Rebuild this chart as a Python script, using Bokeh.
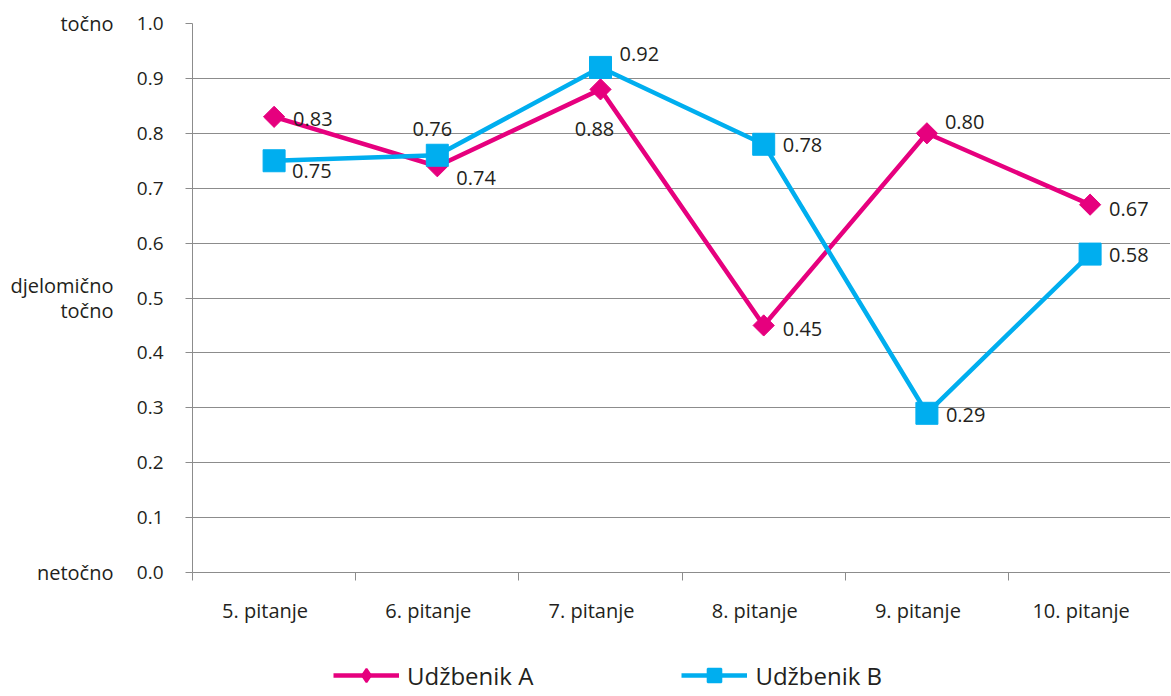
import numpy as np
from bokeh.plotting import figure
from bokeh.layouts import column
from bokeh.models import (Range1d, FixedTicker, LinearAxis, Legend, LegendItem,
                          ColumnDataSource)
from bokeh.core.properties import value
from bokeh.embed import file_html
from bokeh.resources import INLINE

# ---- data ----
categories = ["5. pitanje", "6. pitanje", "7. pitanje", "8. pitanje", "9. pitanje", "10. pitanje"]
series_names = ["Udžbenik A", "Udžbenik B"]
udzbenik_a = [0.83, 0.74, 0.88, 0.45, 0.80, 0.67]
udzbenik_b = [0.75, 0.76, 0.92, 0.78, 0.29, 0.58]
labels_a = ["0.83", "0.74", "0.88", "0.45", "0.80", "0.67"]
labels_b = ["0.75", "0.76", "0.92", "0.78", "0.29", "0.58"]
y_ticks = [0.0, 0.1, 0.2, 0.3, 0.4, 0.5, 0.6, 0.7, 0.8, 0.9, 1.0]
y_tick_labels = ["0.0", "0.1", "0.2", "0.3", "0.4", "0.5", "0.6", "0.7", "0.8", "0.9", "1.0"]
level_ticks = [1.0, 0.5, 0.0]
level_labels = ["točno", "djelomično\ntočno", "netočno"]

# label placement (screen px)
a_dx = [19, 19, -6, 19, 18, 19]
a_dy = [2, 12, 40, 4, -11, 4]
a_align = ["left", "left", "center", "left", "left", "left"]
b_dx = [18, -5, 19, 19, 19, 19]
b_dy = [10, -26, -13, 1, 2, 1]
b_align = ["left", "center", "left", "left", "left", "left"]

PINK = "#E6007E"
BLUE = "#00AEEF"
GRAY = "#8c8c8c"
TXT = "#231f20"
FONT = "Open Sans"

PX_PER_CAT = 163.2
xs = [i + 0.5 for i in range(len(categories))]
label_xs = [x - 9 / PX_PER_CAT for x in xs]

W = 1170
p = figure(width=W, height=640, output_backend="svg", toolbar_location=None,
           x_range=Range1d(0, (W - 192) / PX_PER_CAT), y_range=Range1d(0, 1),
           min_border_left=192, min_border_right=0, min_border_top=23,
           min_border_bottom=68)
p.outline_line_color = None
p.background_fill_color = "white"
p.border_fill_color = "white"

# y axis
p.yaxis.ticker = FixedTicker(ticks=y_ticks)
p.yaxis.major_label_overrides = {t: l for t, l in zip(y_ticks, y_tick_labels)}
p.yaxis.axis_line_color = GRAY
p.yaxis.major_tick_line_color = GRAY
p.yaxis.major_tick_out = 7
p.yaxis.major_tick_in = 0
p.yaxis.minor_tick_line_color = None
p.yaxis.major_label_text_font = FONT
p.yaxis.major_label_text_font_size = "19px"
p.yaxis.major_label_text_color = TXT
p.yaxis.major_label_standoff = 22

ax2 = LinearAxis(ticker=FixedTicker(ticks=level_ticks),
                 major_label_overrides={t: l for t, l in zip(level_ticks, level_labels)})
ax2.axis_line_color = None
ax2.major_tick_line_color = None
ax2.minor_tick_line_color = None
ax2.major_label_text_font = FONT
ax2.major_label_text_font_size = "20px"
ax2.major_label_text_color = TXT
ax2.major_label_text_line_height = 0.9
ax2.major_label_standoff = 14
p.add_layout(ax2, "left")

# x axis
p.xaxis.ticker = FixedTicker(ticks=label_xs, minor_ticks=[0, 1, 2, 3, 4, 5])
p.xaxis.major_label_overrides = {x: c for x, c in zip(label_xs, categories)}
p.xaxis.axis_line_color = GRAY
p.xaxis.major_tick_line_color = None
p.xaxis.minor_tick_line_color = GRAY
p.xaxis.minor_tick_out = 8
p.xaxis.minor_tick_in = 0
p.xaxis.major_label_text_font = FONT
p.xaxis.major_label_text_font_size = "20px"
p.xaxis.major_label_text_color = TXT
p.xaxis.major_label_standoff = 16

p.xgrid.grid_line_color = None
p.ygrid.ticker = FixedTicker(ticks=y_ticks)
p.ygrid.grid_line_color = GRAY
p.ygrid.grid_line_width = 1

src_a = ColumnDataSource(dict(x=xs, y=udzbenik_a, t=labels_a, dx=a_dx, dy=a_dy, al=a_align))
src_b = ColumnDataSource(dict(x=xs, y=udzbenik_b, t=labels_b, dx=b_dx, dy=b_dy, al=b_align))

p.line("x", "y", source=src_a, line_color=PINK, line_width=4.5)
p.scatter("x", "y", source=src_a, marker="square", angle=np.pi / 4, size=15,
          fill_color=PINK, line_color=PINK)
p.line("x", "y", source=src_b, line_color=BLUE, line_width=4.5)
p.scatter("x", "y", source=src_b, marker="square", size=22,
          fill_color=BLUE, line_color=BLUE)

for src in (src_a, src_b):
    p.text("x", "y", text="t", source=src, x_offset="dx", y_offset="dy",
           text_align="al", text_baseline="middle", text_font=value(FONT),
           text_font_size="20px", text_color=TXT)

# ---- legend strip (same series, ranges chosen so nothing but the legend shows) ----
p2 = figure(width=W, height=52, output_backend="svg", toolbar_location=None,
            x_range=Range1d(-20, -10), y_range=Range1d(-20, -10),
            x_axis_type=None, y_axis_type=None, min_border=0)
p2.outline_line_color = None
p2.xgrid.grid_line_color = None
p2.ygrid.grid_line_color = None

la = p2.line("x", "y", source=src_a, line_color=PINK, line_width=4.5)
sa = p2.scatter("x", "y", source=src_a, marker="diamond",
                fill_color=PINK, line_color=PINK, line_width=2)
lb = p2.line("x", "y", source=src_b, line_color=BLUE, line_width=4.5)
sb = p2.scatter("x", "y", source=src_b, marker="square", fill_color=BLUE,
                line_color=BLUE, line_width=2)

legend = Legend(items=[LegendItem(label=series_names[0], renderers=[la, sa]),
                       LegendItem(label=series_names[1], renderers=[lb, sb])],
                orientation="horizontal", location=(141, 0),
                glyph_width=66, glyph_height=34, label_height=30,
                label_text_font=FONT, label_text_font_size="24px",
                label_text_color=TXT, spacing=148, padding=0, margin=0,
                label_standoff=8, border_line_color=None,
                background_fill_alpha=0)
p2.add_layout(legend, "center")

open("out.html", "w").write(file_html(column(p, p2), INLINE))
